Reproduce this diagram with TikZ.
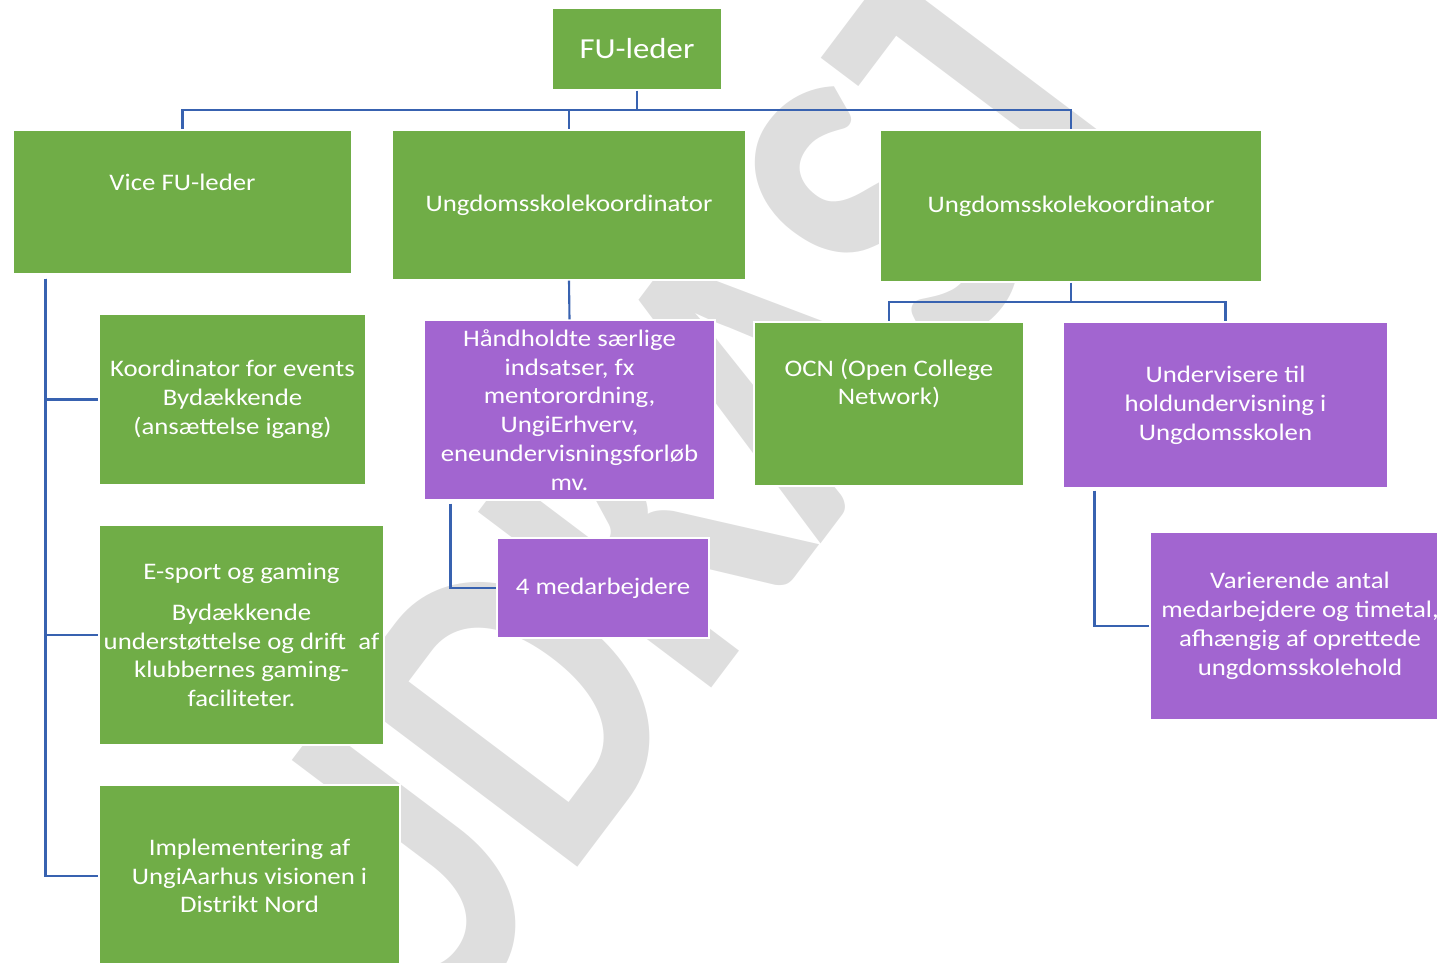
\documentclass[tikz,border=0pt]{standalone}
\usepackage{fontspec}
\setmainfont{Carlito}[FakeStretch=1.13]
\newfontfamily\wmfont{Carlito}
\usepackage{tikz}
\usetikzlibrary{positioning}
\definecolor{fugreen}{RGB}{112,173,71}
\definecolor{fupurple}{RGB}{162,101,208}
\definecolor{linkblue}{RGB}{56,98,176}
\definecolor{wmgray}{RGB}{222,222,222}
\newcommand{\orgfont}{\fontsize{13.5}{16.4}\selectfont}
\tikzset{
    gbox/.style={rectangle, draw=white, line width=0.6pt, fill=fugreen, text=white, align=center, font=\orgfont, inner sep=2pt},
    pbox/.style={gbox, fill=fupurple},
    boxtext/.style={text=white, align=center, font=\orgfont},
    link/.style={draw=linkblue, line width=1.2pt},
    wmark/.style={text=wmgray, font=\wmfont\fontsize{205}{205}\selectfont\bfseries, rotate=53, yscale=1.25}
}

\begin{document}
\begin{tikzpicture}
        \useasboundingbox (0,0) rectangle (28.74,-19.26);
        % Watermark behind everything
        \node[wmark] (udkast) at (13.5,-9.9) {UDKAST};

        % Top level
        \node[gbox, minimum width=3.4cm, minimum height=1.64cm, font=\fontsize{16.5}{20}\selectfont] (fuleder) at (12.74,-0.98) {FU-leder};

        % Second level
        \node[gbox, minimum width=6.78cm, minimum height=2.88cm] (vice) at (3.65,-4.04) {};
        \node[boxtext] (vicetext) at (3.65,-3.64) {Vice FU-leder};
        \node[gbox, minimum width=7.08cm, minimum height=3.0cm] (ungdA) at (11.38,-4.10) {Ungdomsskolekoordinator};
        \node[gbox, minimum width=7.64cm, minimum height=3.04cm] (ungdB) at (21.42,-4.12) {Ungdomsskolekoordinator};

        % Under vice FU-leder
        \node[gbox, minimum width=5.34cm, minimum height=3.42cm] (koord) at (4.65,-7.99) {Koordinator for events\\Bydækkende\\(ansættelse igang)};
        \node[gbox, minimum width=5.70cm, minimum height=4.40cm] (esport) at (4.83,-12.70) {E-sport og gaming\\[0.24cm]Bydækkende\\understøttelse og drift~ af\\klubbernes gaming-\\faciliteter.};
        \node[gbox, minimum width=6.02cm, minimum height=3.64cm] (impl) at (4.99,-17.52) {Implementering af\\UngiAarhus visionen i\\Distrikt Nord};

        % Under first koordinator
        \node[pbox, minimum width=5.82cm, minimum height=3.60cm] (hand) at (11.39,-8.20) {Håndholdte særlige\\indsatser, fx\\mentorordning,\\UngiErhverv,\\eneundervisningsforløb\\mv.};
        \node[pbox, minimum width=4.24cm, minimum height=2.0cm] (medarb) at (12.06,-11.76) {4 medarbejdere};

        % Under second koordinator
        \node[gbox, minimum width=5.40cm, minimum height=3.28cm] (ocn) at (17.78,-8.08) {};
        \node[boxtext] (ocntext) at (17.78,-7.67) {OCN (Open College\\Network)};
        \node[pbox, minimum width=6.50cm, minimum height=3.32cm] (underv) at (24.51,-8.10) {Undervisere til\\holdundervisning i\\Ungdomsskolen};
        \node[pbox, minimum width=6.0cm, minimum height=3.76cm] (varier) at (26.0,-12.52) {Varierende antal\\medarbejdere og timetal,\\afhængig af oprettede\\ungdomsskolehold};

        % Connectors
        \coordinate (busA) at (12.74,-2.2);
        \draw[link] (fuleder.south) -- (busA);
        \draw[link] (busA) -| (vice.north);
        \draw[link] (busA) -| (ungdA.north);
        \draw[link] (busA) -| (ungdB.north);

        \coordinate (spine) at ([xshift=0.66cm,yshift=-0.08cm]vice.south west);
        \draw[link] (spine) |- (koord.west);
        \draw[link] (spine) |- (esport.west);
        \draw[link] (spine) |- (impl.west);

        \draw[link] (ungdA.south) -- (hand.north);
        \draw[link] ([xshift=0.54cm,yshift=-0.06cm]hand.south west) |- (medarb.west);

        \coordinate (busB) at (21.42,-6.04);
        \draw[link] (ungdB.south) -- (busB);
        \draw[link] (busB) -| (ocn.north);
        \draw[link] (busB) -| (underv.north);
        \draw[link] ([xshift=0.64cm,yshift=-0.04cm]underv.south west) |- (varier.west);

    \end{tikzpicture}
\end{document}
